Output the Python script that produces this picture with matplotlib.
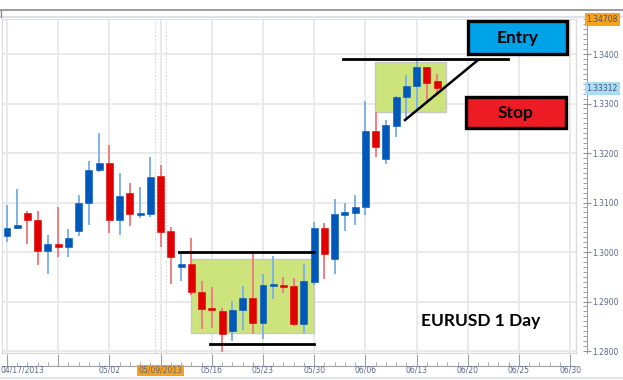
import matplotlib.pyplot as plt
import numpy as np
from matplotlib.lines import Line2D
from matplotlib.patches import Rectangle
from matplotlib.ticker import MultipleLocator, FormatStrFormatter, NullFormatter


# daily EURUSD candles, 04/17/2013 onwards
opens = [1.30323, 1.30485, 1.30788, 1.30647, 1.30021, 1.30162, 1.30101, 1.30425, 1.30990, 1.31657,
         1.31798, 1.30647, 1.31192, 1.30748, 1.30768, 1.31536, 1.30425, 1.29697, 1.29758, 1.29192,
         1.28869, 1.28809, 1.28405, 1.28829, 1.29071, 1.28566, 1.29314, 1.29334, 1.29314, 1.28546,
         1.29394, 1.30485, 1.29859, 1.30748, 1.30788, 1.30909, 1.32445, 1.31879, 1.32546, 1.33131,
         1.33354, 1.33737, 1.33455]
highs = [1.30950, 1.31273, 1.30829, 1.30829, 1.30344, 1.30909, 1.30465, 1.31152, 1.31839, 1.32404,
         1.32162, 1.31596, 1.31394, 1.31313, 1.31919, 1.31758, 1.30505, 1.29980, 1.30283, 1.29415,
         1.29293, 1.28869, 1.29011, 1.29314, 1.29980, 1.29556, 1.29920, 1.29495, 1.29475, 1.29758,
         1.30606, 1.30586, 1.31071, 1.30990, 1.31152, 1.33051, 1.32828, 1.32667, 1.33152, 1.33576,
         1.33879, 1.33737, 1.33596]
lows = [1.30202, 1.30465, 1.30162, 1.29738, 1.29556, 1.29899, 1.29899, 1.30323, 1.30546, 1.31616,
        1.30384, 1.30344, 1.30526, 1.30687, 1.30707, 1.30101, 1.29354, 1.29415, 1.29132, 1.28445,
        1.28465, 1.27980, 1.28203, 1.28425, 1.28344, 1.28243, 1.29051, 1.29172, 1.28506, 1.28364,
        1.29334, 1.29455, 1.29556, 1.30425, 1.30546, 1.30748, 1.31919, 1.31778, 1.32323, 1.32687,
        1.32849, 1.33030, 1.33172]
closes = [1.30485, 1.30546, 1.30647, 1.30021, 1.30162, 1.30101, 1.30283, 1.30990, 1.31657, 1.31798,
          1.30647, 1.31132, 1.30768, 1.30788, 1.31515, 1.30404, 1.29899, 1.29758, 1.29192, 1.28849,
          1.28829, 1.28344, 1.28829, 1.29071, 1.28566, 1.29334, 1.29354, 1.29293, 1.28546, 1.29415,
          1.30485, 1.29960, 1.30768, 1.30808, 1.30909, 1.32445, 1.32121, 1.32566, 1.33131, 1.33354,
          1.33737, 1.33414, 1.33312]

date_pos = [0, 10, 15, 20, 25, 30, 35, 40, 45, 50, 55]
date_labels = ['04/17/2013', '05/02', '05/09/2013', '05/16', '05/23', '05/30',
               '06/06', '06/13', '06/20', '06/25', '06/30']

y_min, y_max = 1.2796, 1.34708
last_price = 1.33312

o = np.array(opens)
h = np.array(highs)
l = np.array(lows)
c = np.array(closes)
x = np.arange(len(o))
up = c >= o

fig = plt.figure(figsize=(6.23, 3.80), dpi=100)
ax = fig.add_axes([2/623, 27/380, 574/623, 334/380])

ax.set_xlim(-0.49, 55.57)
ax.set_ylim(y_min, y_max)

# grid
ax.xaxis.set_major_locator(MultipleLocator(5))
ax.xaxis.set_minor_locator(MultipleLocator(1))
ax.yaxis.set_major_locator(MultipleLocator(0.01))
ax.yaxis.set_minor_locator(MultipleLocator(0.001))
ax.grid(True, which='major', color='#e8e8e8', lw=1.3)
ax.set_axisbelow(True)
ax.axvline(14.5, color='#d8d8d8', lw=0.8, ls=(0, (1.5, 1.5)))
ax.axvline(15.5, color='#d8d8d8', lw=0.8, ls=(0, (1.5, 1.5)))

# range boxes
ax.add_patch(Rectangle((17.97, 1.28364), 30.0 - 17.97, 1.29859 - 1.28364,
                       facecolor='#cde47c', edgecolor='#c8c8c8', lw=1.0, zorder=1))
ax.add_patch(Rectangle((35.9, 1.32828), 42.9 - 35.9, 1.33838 - 1.32828,
                       facecolor='#cde47c', edgecolor='#c8c8c8', lw=1.0, zorder=1))

# candles
wick_col = np.where(up, '#7fb2e8', '#f27e7e')
body_col = np.where(up, '#0058bb', '#e00000')
ax.vlines(x, l, h, colors=wick_col, lw=1.4, zorder=2)
body = np.maximum(np.abs(c - o), 0.00007)
ax.bar(x, body, bottom=np.minimum(o, c), width=0.68, color=body_col,
       edgecolor=body_col, lw=0.4, zorder=3)

# support / resistance lines
ax.plot([16.8, 30.0], [1.3000, 1.3000], color='black', lw=2, zorder=4)
ax.plot([19.8, 30.0], [1.28141, 1.28141], color='black', lw=2, zorder=4)
ax.plot([32.8, 48.9], [1.33899, 1.33899], color='black', lw=2, zorder=4)
ax.plot([38.87, 46.0], [1.32667, 1.33879], color='black', lw=1.8, zorder=4)

# entry / stop boxes
ax.add_patch(Rectangle((45.0, 1.34), 9.7, 0.00667, facecolor='#00a2e8',
                       edgecolor='black', lw=2.4, zorder=5))
ax.text(49.85, 1.34333, 'Entry', ha='center', va='center', fontsize=12.5,
        fontweight='bold', family='Lato', zorder=6)
ax.add_patch(Rectangle((44.8, 1.32505), 9.8, 0.00626, facecolor='#ed1c24',
                       edgecolor='black', lw=2.4, zorder=5))
ax.text(49.7, 1.32818, 'Stop', ha='center', va='center', fontsize=12.5,
        fontweight='bold', family='Lato', zorder=6)
ax.text(46.3, 1.28607, 'EURUSD 1 Day', ha='center', va='center', fontsize=12.5,
        fontweight='bold', family='Lato', zorder=6)

# spines and axes
for s in ['left', 'top']:
    ax.spines[s].set_color('#dcdcdc')
ax.spines['top'].set_linestyle((0, (1.5, 1.5)))
ax.spines['right'].set_position(('outward', 8))
ax.spines['bottom'].set_position(('outward', 9))
ax.spines['right'].set_color('#a0a0a0')
ax.spines['bottom'].set_color('#a0a0a0')
ax.axvline(55.57, color='#dcdcdc', lw=1.0, clip_on=False)
ax.axhline(y_min, color='#dcdcdc', lw=1.0, clip_on=False)

ax.yaxis.tick_right()
ax.yaxis.set_major_formatter(FormatStrFormatter('%.4f'))
ax.tick_params(axis='y', which='major', direction='inout', length=6, width=0.8,
               color='#909090', labelsize=5.5, labelcolor='#5a6790', pad=1)
ax.tick_params(axis='y', which='minor', direction='in', length=3, width=0.6, color='#909090')
ax.tick_params(axis='x', which='major', direction='in', length=9, width=0.8,
               color='#a0a0a0', labelbottom=False)
ax.tick_params(axis='x', which='minor', direction='in', length=3, width=0.6, color='#a0a0a0')
ax.xaxis.set_major_formatter(NullFormatter())

# date labels
for pos, lab in zip(date_pos, date_labels):
    xx = pos if pos > 0 else 1.55
    kw = {}
    if lab == '05/09/2013':
        kw['bbox'] = dict(boxstyle='square,pad=0.15', fc='#f7a21b', ec='none')
    ax.text(xx, -0.052, lab, transform=ax.get_xaxis_transform(), ha='center',
            va='center', fontsize=5.5, color='#5a6790', **kw)

# price flags on the right axis (top flag nudged down a touch so it is not cut)
flags = [(y_max, y_max - 0.00005, '#f7a21b'), (last_price, last_price, '#a9ddf6')]
for val, ypos, fc in flags:
    ax.annotate('%.5f' % val, xy=(1, ypos), xycoords=('axes fraction', 'data'),
                xytext=(7.5, 0), textcoords='offset points', ha='left', va='center',
                fontsize=5.5, color='#4a5070', annotation_clip=False, zorder=10,
                bbox=dict(boxstyle='square,pad=0.25', fc=fc, ec='none'))

# header strip
fig.add_artist(Line2D([0, 1], [1 - 9.5/380] * 2, color='#8c8c8c', lw=1.2, zorder=-1))
fig.add_artist(Line2D([0, 1], [1 - 16.5/380] * 2, color='#dde2e8', lw=1.5, zorder=-1))
fig.add_artist(Line2D([0.001, 0.001], [1 - 16.5/380, 1 - 9.5/380], color='#8c8c8c', lw=1.0, zorder=-1))
fig.add_artist(Line2D([0, 1], [1 - 378/380] * 2, color='#e3e6ea', lw=1.5, zorder=-1))

fig.savefig('out.png', dpi=100)
